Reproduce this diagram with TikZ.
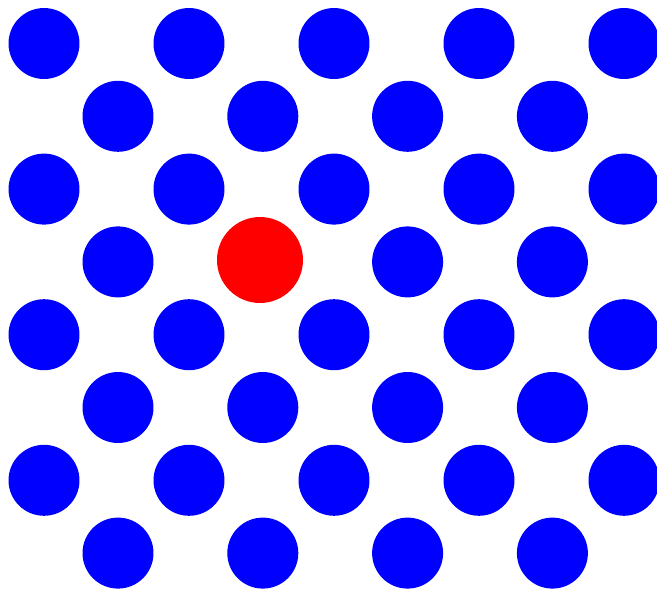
\documentclass[tikz,border=0pt]{standalone}
\usepackage{tikz}
\definecolor{dotBlue}{HTML}{0000FF}
\definecolor{dotRed}{HTML}{FF0000}

\begin{document}
\begin{tikzpicture}[
  x=0.02cm, y=-0.02cm,
  site/.style={circle, inner sep=0pt, minimum size=1.42cm},
  atom/.style={site, fill=dotBlue},
  defect/.style={site, fill=dotRed, minimum size=1.72cm}
]
  \useasboundingbox (0,0) rectangle (657,589);

  % rows with five dots
  \foreach \r in {0,2,4,6} {
    \foreach \c in {0,...,4} {
      \node[atom] (a-\r-\c) at ({44+145*\c},{43.5+72.8*\r}) {};
    }
  }
  % rows with four dots
  \foreach \r in {1,3,5,7} {
    \foreach \c in {0,...,3} {
      \ifnum\r=3 \ifnum\c=1 \else
        \node[atom] (a-\r-\c) at ({118+144.8*\c},{43.5+72.8*\r}) {};
      \fi \else
        \node[atom] (a-\r-\c) at ({118+144.8*\c},{43.5+72.8*\r}) {};
      \fi
    }
  }
  % the odd one out
  \node[defect] (a-3-1) at (260,260) {};
\end{tikzpicture}
\end{document}
